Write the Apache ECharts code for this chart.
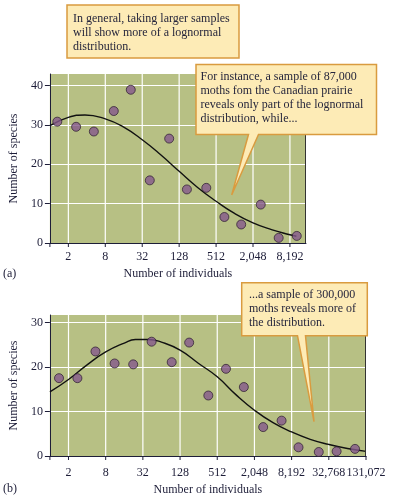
<!DOCTYPE html>
<html>
<head>
<meta charset="utf-8">
<script src="https://cdn.jsdelivr.net/npm/echarts@6/dist/echarts.min.js"></script>
<style>
html,body{margin:0;padding:0;background:#fff;}
#chart{width:394px;height:498px;}
</style>
</head>
<body>
<div id="chart"></div>
<script>
// ---- Data (x values are log2 of number of individuals) ----
// Panel (a): 87,000 moths, Canadian prairie
const aPointsLog2 = [0.4, 1.42, 2.38, 3.46, 4.38, 5.41, 6.46, 7.42, 8.47, 9.45, 10.36, 11.42, 12.39, 13.37];
const aSpecies    = [30.8, 29.5, 28.3, 33.5, 38.9, 15.9, 26.5, 13.6, 14.0, 6.6, 4.7, 9.75, 1.3, 1.8];
const aCurveLog2  = [0, 1, 1.9, 3, 4, 5, 6, 7, 8, 9, 10, 11, 12, 13, 13.35];
const aCurveY     = [29.8, 31.9, 32.5, 31.5, 29.4, 26.2, 22.4, 18.2, 14.1, 10.6, 7.5, 5.1, 3.4, 2.1, 1.7];

// Panel (b): 300,000 moths
const bPointsLog2 = [0.49, 1.48, 2.45, 3.48, 4.48, 5.47, 6.55, 7.49, 8.52, 9.47, 10.43, 11.47, 12.46, 13.37, 14.46, 15.42, 16.41];
const bSpecies    = [17.5, 17.5, 23.5, 20.8, 20.6, 25.7, 21.1, 25.5, 13.6, 19.6, 15.5, 6.5, 7.95, 1.95, 0.9, 1.05, 1.6];
const bCurveLog2  = [0, 1, 2, 3, 4, 4.6, 5.3, 6, 7, 8, 9, 10, 11, 12, 13, 14, 15, 16, 17];
const bCurveY     = [14.4, 17.2, 20.5, 23.4, 25.4, 26.2, 26.2, 25.6, 23.8, 20.8, 17.8, 13.8, 10.3, 7.5, 5.4, 3.75, 2.6, 1.7, 1.05];

// Tick labels
const xTickLog2   = [1, 3, 5, 7, 9, 11, 13, 15, 17];
const xTickLabels = ['2', '8', '32', '128', '512', '2,048', '8,192', '32,768', '131,072'];
const aYTicks = [0, 10, 20, 30, 40];
const bYTicks = [0, 10, 20, 30];

const aMaxX = 13.87, bMaxX = 17;
const aMaxY = 42.9, bMaxY = 31.7;

// ---- Styles ----
const FONT = 'Liberation Serif';
const INK = '#1d1d38';
const PLOT_BG = '#b7c084';
const DOT = '#85578c';
const BOX_FILL = '#fdebb6';
const BOX_STROKE = '#d99b3f';

function zip(xs, ys){ return xs.map((x,i)=>[x, ys[i]]); }
function labelFor(v){ const i = xTickLog2.indexOf(v); return i >= 0 ? xTickLabels[i] : ''; }

function xAxisCfg(gridIndex, max, labelMargin, nameGap){
  return {
    type: 'value', gridIndex, min: 0, max, interval: 1,
    name: 'Number of individuals', nameLocation: 'middle', nameGap,
    nameTextStyle: {fontFamily: FONT, fontSize: 12, color: INK},
    axisLine: {show: true, onZero: false, lineStyle: {color: INK, width: 1}},
    axisTick: {show: false},
    axisLabel: {show: true, formatter: v => labelFor(v), margin: labelMargin,
      showMinLabel: true, showMaxLabel: true, hideOverlap: false,
      fontFamily: FONT, fontSize: 12, color: INK},
    splitLine: {show: false}
  };
}
function yAxisCfg(gridIndex, max, ticks, nameGap){
  return {
    type: 'value', gridIndex, min: 0, max,
    name: 'Number of species', nameLocation: 'middle', nameGap, nameRotate: 90,
    nameTextStyle: {fontFamily: FONT, fontSize: 12, color: INK},
    axisLine: {show: true, lineStyle: {color: INK, width: 1}},
    axisTick: {show: true, length: 5, customValues: ticks, lineStyle: {color: INK}},
    axisLabel: {show: true, customValues: ticks, margin: 7, fontFamily: FONT, fontSize: 12, color: INK},
    splitLine: {show: true, lineStyle: {color: '#ffffff', width: 1.2}}
  };
}

// vertical white grid lines + outward ticks at the labelled x ticks (and the axis origin)
function vGrid(xi, yi, maxX, maxY){
  return {type: 'custom', xAxisIndex: xi, yAxisIndex: yi, z: 3,
    data: [0].concat(xTickLog2.filter(v => v <= maxX)).map(v => [v, 0]),
    renderItem: function(params, api){
      const v = api.value(0);
      const p0 = api.coord([v, 0]);
      const p1 = api.coord([v, maxY]);
      const children = [{type: 'line', shape: {x1: p0[0], y1: p0[1] + 4, x2: p0[0], y2: p0[1]},
        style: {stroke: INK, lineWidth: 1}}];
      if (v > 0 && v < maxX) {
        children.unshift({type: 'line', shape: {x1: p0[0], y1: p0[1], x2: p1[0], y2: p1[1]},
          style: {stroke: '#ffffff', lineWidth: 1.2}});
      }
      return {type: 'group', children};
    }};
}
// right-hand frame line of each panel
function rightEdge(xi, yi, maxX, maxY){
  return {type: 'custom', xAxisIndex: xi, yAxisIndex: yi, z: 6,
    data: [[maxX, 0]],
    renderItem: function(params, api){
      const p0 = api.coord([api.value(0), 0]);
      const p1 = api.coord([api.value(0), maxY]);
      return {type: 'line', shape: {x1: p0[0] - 0.5, y1: p0[1], x2: p1[0] - 0.5, y2: p1[1]},
        style: {stroke: '#333', lineWidth: 1}};
    }};
}
function scatter(xi, yi, xs, ys){
  return {type: 'scatter', xAxisIndex: xi, yAxisIndex: yi, data: zip(xs, ys), symbolSize: 9,
    itemStyle: {color: DOT, borderColor: '#2a1a2e', borderWidth: 0.9}, z: 5};
}
function curve(xi, yi, xs, ys){
  return {type: 'line', xAxisIndex: xi, yAxisIndex: yi, data: zip(xs, ys), smooth: 0.5, symbol: 'none',
    lineStyle: {color: '#111', width: 1.4}, z: 4};
}

function callout(points, stroke, fill){
  return {type: 'polygon', shape: {points}, style: {fill, stroke, lineWidth: 1.5}, z: 100};
}
function calloutText(x, y, text){
  return {type: 'text', x, y, z: 101, style: {text, font: '12px "' + FONT + '"', fill: '#26263c',
    lineHeight: 14, verticalAlign: 'top'}};
}

const chart = echarts.init(document.getElementById('chart'), null, {renderer: 'canvas'});
chart.setOption({
  animation: false,
  backgroundColor: '#ffffff',
  grid: [
    {left: 40, top: 74, width: 266, height: 169, show: true, backgroundColor: PLOT_BG, borderWidth: 0},
    {left: 40, top: 315, width: 326, height: 141, show: true, backgroundColor: PLOT_BG, borderWidth: 0}
  ],
  xAxis: [xAxisCfg(0, aMaxX, 8, 25), xAxisCfg(1, bMaxX, 11, 28)],
  yAxis: [yAxisCfg(0, aMaxY, aYTicks, 24), yAxisCfg(1, bMaxY, bYTicks, 24)],
  series: [
    vGrid(0, 0, aMaxX, aMaxY),
    vGrid(1, 1, bMaxX, bMaxY),
    rightEdge(0, 0, aMaxX, aMaxY),
    rightEdge(1, 1, bMaxX, bMaxY),
    curve(0, 0, aCurveLog2, aCurveY),
    scatter(0, 0, aPointsLog2, aSpecies),
    curve(1, 1, bCurveLog2, bCurveY),
    scatter(1, 1, bPointsLog2, bSpecies)
  ],
  graphic: [
    callout([[67,5],[239,5],[239,58],[67,58]], BOX_STROKE, BOX_FILL),
    calloutText(73, 11.5, 'In general, taking larger samples\nwill show more of a lognormal\ndistribution.'),
    callout([[196,64.5],[376.5,64.5],[376.5,134.5],[258.5,134.5],[231.7,195],[248.5,134.5],[196,134.5]], BOX_STROKE, BOX_FILL),
    calloutText(200.5, 69.5, 'For instance, a sample of 87,000\nmoths fom the Canadian prairie\nreveals only part of the lognormal\ndistribution, while...'),
    callout([[241.7,282.7],[367.3,282.7],[367.3,335.7],[305.5,335.7],[314,421.7],[297.5,335.7],[241.7,335.7]], BOX_STROKE, BOX_FILL),
    calloutText(249, 288, '...a sample of 300,000\nmoths reveals more of\nthe distribution.'),
    {type: 'text', x: 3, y: 268, style: {text: '(a)', font: '12px "' + FONT + '"', fill: INK}},
    {type: 'text', x: 3, y: 483, style: {text: '(b)', font: '12px "' + FONT + '"', fill: INK}}
  ]
});
</script>
</body>
</html>
